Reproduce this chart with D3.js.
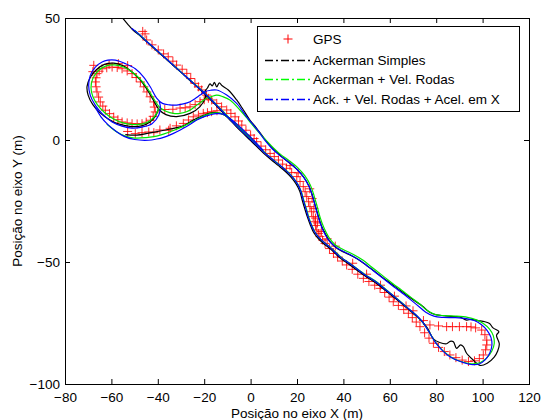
<!DOCTYPE html>
<html>
<head>
<meta charset="utf-8">
<script src="https://cdn.jsdelivr.net/npm/d3@7"></script>
<style>
  body { margin: 0; background: #fff; }
  text { font-family: "Liberation Sans", Arial, sans-serif; }
</style>
</head>
<body>
<div id="chart"></div>
<script>
// x/y ticks
var xTicks = [-80, -60, -40, -20, 0, 20, 40, 60, 80, 100, 120];
var yTicks = [-100, -50, 0, 50];

var legendLabels = ["GPS", "Ackerman Simples", "Ackerman + Vel. Rodas", "Ack. + Vel. Rodas + Acel. em X"];

// GPS fixes [x, y] in metres
var gpsPoints = [
  [-46.5,44.5],[-45.5,43.5],[-44.8,41],[-42.5,39],[-39.8,36.9],[-37.5,35.3],[-35.5,34.1],[-33.5,32.3],
  [-31.9,30.7],[-29.5,29],[-27.5,27.3],[-25.8,25.2],[-24,23.2],[-22.5,21.8],[-21.1,20.5],[-19,18.4],
  [-16.8,16.4],[-14.6,15],[-12.5,13.6],[-10.3,12.3],[-8.5,10.9],[-6.7,9.5],[-5.2,7.8],[-3.8,6.1],
  [-2,4],[0,2],[1.5,0.6],[2.6,-0.7],[4.5,-2.5],[6.5,-4],[8.4,-5.5],[10.2,-6.8],[12,-8.2],[13.8,-9.9],
  [15.5,-11.6],[17.7,-13.3],[19.9,-15],[21.3,-17],[22.7,-19.1],[23.5,-21.2],[24.2,-23.2],[25,-25.3],
  [25.6,-27.3],[26.3,-29.4],[27,-31.4],[27.7,-33.5],[28,-35],[28.5,-36.9],[29.2,-38.3],[29.9,-39.6],
  [31,-41],[32.1,-42.4],[34,-44.5],[35.7,-46.5],[37.5,-48],[39.5,-49.6],[41.4,-51.2],[43.8,-53],
  [46.2,-55],[48.6,-56.7],[51,-58],[53.5,-59.5],[55.8,-60.8],[57.8,-62.5],[59.7,-64.4],[61.5,-66.3],
  [63.7,-67.8],[66,-69.5],[68,-71],[69.7,-72.8],[71.4,-74.6],[73,-76.5],[75,-79],[76.9,-81.2],
  [78.8,-83.3],[81,-85],[83.5,-86.7],[85.9,-88.1],[88.5,-89.2],[91.2,-90.2],[93.9,-90.8],[96.5,-90.5],
  [98.6,-89.6],[100.3,-88.1],[101.3,-86],[101.8,-84],[101.8,-82],[101,-79.8],[99.6,-77.9],[97,-77],
  [95,-76.6],[93.1,-76.5],[90,-76.5],[87,-76.5],[84.5,-76.5],[81,-76.2],[77.3,-75.8],
  [25.5,-20],[26.5,-24],[27.3,-28],[28,-32],[28.8,-34],[30.5,-37.5],[33,-40.5],[36.5,-43.5],
  [20.5,-13.5],[17,-10.5],[44,-50.5],[50,-55],[56,-59.5],[62,-64],[67,-68],[70,-70],[74.5,-74],
  [-37,12.5],[-33.5,12.6],[-30.4,13.1],[-28.2,13.2],[-26.1,13.6],[-23.9,14.5],[-21.8,15.7],[-20,16.5],[-18.2,17.1],
  [-41.1,11.5],[-41.5,13.5],[-41.8,15.6],[-43.3,17.7],[-44.7,19.7],[-46,21.8],[-47.5,23.8],[-49.3,25.6],
  [-51.1,27.2],[-53.2,28.3],[-55.4,29.2],[-57.5,29.7],[-59.7,29.9],[-62,29.6],[-64.05,29.2],[-65.3,28.2],
  [-66.2,27.2],[-66.6,25.5],[-66.9,23.8],[-66.6,21.8],[-66.2,19.7],[-65.5,17.6],[-64.8,15.6],[-63.7,13.9],
  [-62.6,12.2],[-60.8,10.8],[-59,9.4],[-57.2,8.3],[-55.4,7.4],[-53.2,7],[-51.1,6.7],[-48.9,6.6],
  [-46.8,6.7],[-45,7.3],[-43.2,8.1],[-42,9.7],
  [-61,31],[-57,31.3],[-53,30.5],[-68,28],[-67.6,30.6],
  [-53,3.5],[-49.7,2.6],[-46.8,3],[-43.9,3.3],[-41.7,3],[-39.1,4.1],[-35.3,4],[-34.7,4.8],[-32,5.8],
  [-29,6.8],[-26.8,8.2],[-24.7,9.5],[-22.5,10.2],[-20.4,10.9],[-18.6,11.2],[-16.8,11.6],[-14.5,12]
];

// Ackerman Simples
var blackMain = [
  [-55.6,50.5],[-53,47.5],[-50.6,45],[-48,43],[-45,40.4],[-42,37.9],[-39,35.3],[-36,32.8],[-33,30.2],
  [-30,27.7],[-27,25.1],[-24,22.6],[-21,20],[-18,17.2],[-15,14.3],[-12,11.3],[-9,8.3],[-6,5.3],[-3,2.5],
  [0,-0.2],[3,-3],[6,-5.8],[9,-8.2],[12,-10.5],[15,-12.9],[17.5,-15.3],[19.6,-18],[21.2,-21],[22.3,-24.8],
  [23.4,-28.3],[24.5,-31.6],[25.7,-34.7],[27,-37.6],[29,-40.2],[31.5,-42.5],[34.2,-44.5],[38.5,-48.3],
  [42.8,-51.2],[48.6,-55.2],[54.3,-58.8],[58.7,-62.1],[63,-65.4],[67.3,-68.8],[71,-71.8],[74,-74.5],
  [76.5,-77.5],[78.8,-81.5],[81.5,-83],[84.5,-83.5],[86,-82.5],[87.4,-82.7],[88.8,-85.4],[90.5,-84],
  [91.7,-84.7],[93.1,-87.4],[96,-90.2],[98.9,-92.4],[102,-91.5],[105,-89],[106.5,-86.5],[107.2,-83.5],
  [106,-80],[107,-78.5],[104.5,-77],[103,-75.2],[101,-74.5],[98,-74],[95,-73.5],[93.1,-73.8],[90,-72.5],
  [87.4,-72.4],[83.5,-72],[80.2,-71.7],[77,-70.5],[74,-68],[70.5,-65.8],[66.5,-63],[62.5,-60.2],
  [58.5,-57.5],[54.5,-54.6],[50,-51.4],[45.5,-48.5],[41,-46.3],[37.5,-44.6],[34.5,-42],[32.3,-38.6],
  [30.4,-34.8],[29,-30.5],[27.6,-26],[26.2,-21.5],[24.3,-17.3],[21.3,-13.4],[17.8,-10.2],[13.8,-7.2],
  [9.6,-3.5],[6,0.5],[2.6,4.8],[-0.3,8.2],[-3.1,12.3],[-6,16.4],[-9.6,20.5],[-12.2,22.2],[-13.5,23.4],
  [-14.6,21.8],[-15.6,23.6],[-16.5,22.2],[-17.5,23],[-18.6,21.3],[-19.6,20],[-19.5,17.5],[-21.8,13.7],
  [-26.1,10.9],[-31.9,9.6],[-36.5,10.4],[-39.5,12.5],[-42,16.5],[-44.5,20.5],[-47.5,24.5],[-51,27.8],
  [-55,30.4],[-59,31.5],[-63,31],[-66.5,28.8],[-69,25.8],[-70.5,22],[-70,18.3],[-68,14.5],[-65,11.2],
  [-61,8.4],[-57,6.6],[-52,5.6],[-47,5.8],[-43.5,7.3],[-41,9.8],[-39.8,12.5]
];
var blackLower = [
  [-54,2.2],[-49,2],[-44,2.8],[-39.5,3.6],[-34.7,4.5],[-29,5.8],[-24.7,8.2],[-20.4,10],[-16.5,11.2],
  [-13,10.9],[-9.5,9.2],[-6,6.4],[-2.5,3.2],[1,-0.2],[4,-3]
];

// Ackerman + Vel. Rodas
var greenMain = [
  [-50,45],[-47,42.4],[-44,39.8],[-41,37.2],[-38,34.7],[-35,32.1],[-32,29.6],[-29,27],[-26,24.5],
  [-23,22],[-20,19.4],[-17,16.7],[-14,13.8],[-11,10.9],[-8,7.9],[-5,5],[-2,2.2],[1,-0.5],[4,-3.2],
  [7,-5.9],[10,-8.3],[13,-10.6],[16,-13],[18.5,-15.6],[20.5,-18.4],[22,-21.6],[23.1,-25.3],[24.2,-28.7],
  [25.2,-32],[26.4,-35],[27.8,-37.8],[29.6,-40.1],[32,-42.2],[34.8,-44.3],[39,-48],[43.3,-50.9],
  [49,-54.9],[54.7,-58.4],[59,-61.8],[63.3,-65.1],[67.5,-68.6],[71.3,-71.7],[74.3,-74.8],[77,-78.8],
  [79.8,-83],[83,-86.4],[86.5,-89],[90.6,-90.8],[95.2,-91.7],[99,-91.2],[101.8,-89.3],[104,-86.5],
  [105,-83.5],[104.6,-80.2],[103,-77.5],[100.3,-75.2],[97,-73.6],[93.5,-72.7],[88.5,-72.2],[83.5,-72],
  [79.5,-71.5],[76,-69.8],[73,-67.3],[69,-64.4],[65,-61.5],[61.5,-59],[57.7,-56.2],[53.4,-53],[48,-49],
  [43.5,-46.5],[39.5,-44.7],[36.5,-43],[33.8,-40],[31.7,-36.2],[30,-31.8],[28.7,-27.3],[27.4,-23],
  [25.9,-18.8],[23.5,-14.8],[20.4,-11.4],[16.8,-8.6],[12.8,-5.8],[9.2,-2.6],[5.8,0.8],[2.3,4.5],
  [-1,8.3],[-4.6,12.3],[-8.9,16.4],[-12,17.8],[-14.6,18.4],[-16.8,17.8],[-18.9,17.1],[-21,15.8],
  [-23.2,14.3],[-25.5,12.6],[-27.6,11.6],[-30.5,10.9],[-33.3,10.9],[-36.5,11.8],[-39.1,13.3],
  [-41.5,16.5],[-44,20.5],[-47,24.3],[-50.5,27.5],[-54.5,29.8],[-58.5,30.8],[-62.5,30.3],[-65.8,28.3],
  [-68,25.2],[-68.8,21.5],[-68,17.8],[-66,14.4],[-63,11.3],[-59.2,8.7],[-55,7],[-50.5,6.3],
  [-46.5,6.6],[-43.2,8],[-40.8,10.4],[-39.6,13]
];
var greenLower = [
  [-62,6.5],[-58,3.5],[-54,1.6],[-50,0.8],[-45,1],[-40.5,1.6],[-37.6,2.4],[-33,4],[-29,5.6],
  [-24.5,7.8],[-20.4,9.8],[-16.5,11],[-12.5,10.8],[-8.5,8.2],[-5,5.2],[-1.5,2],[2,-1.2],[5,-4]
];

// Ack. + Vel. Rodas + Acel. em X
var blueMain = [
  [-51.3,45.8],[-48,43.3],[-45,40.6],[-42,38.1],[-39,35.5],[-36,33],[-33,30.4],[-30,27.8],[-27,25.3],
  [-24,22.7],[-21,20.2],[-18,17.5],[-15,14.6],[-12,11.6],[-9,8.6],[-6,5.7],[-3,2.9],[0,0.2],[3,-2.5],
  [6,-5.2],[9,-7.6],[12,-9.9],[15,-12.3],[17.8,-14.9],[20,-17.7],[21.6,-20.8],[22.7,-24.6],[23.8,-28],
  [24.8,-31.4],[26,-34.4],[27.3,-37.2],[29.2,-39.7],[31.7,-42],[34.4,-44.1],[38.6,-47.9],[43,-50.8],
  [48.7,-54.9],[54.4,-58.4],[58.8,-61.8],[63.1,-65.1],[67.4,-68.6],[71.2,-71.6],[74.2,-74.6],
  [76.8,-78.5],[79.5,-82.7],[82.6,-86.2],[86.1,-88.9],[90.4,-90.8],[95,-92],[98.5,-91.8],[101.2,-90],
  [103.1,-87.3],[104,-84.2],[103.6,-80.9],[102,-78.1],[99.4,-75.6],[96.4,-74],[93,-73.2],[88,-72.8],
  [83,-72.7],[79,-72.2],[75.5,-70.6],[72.4,-68.1],[68.5,-65.1],[64.5,-62.1],[61,-59.6],[57.2,-56.8],
  [52.9,-53.6],[47.5,-49.6],[43,-47],[39,-45.2],[36,-43.4],[33.2,-40.5],[31.1,-36.8],[29.4,-32.4],
  [28.1,-28],[26.9,-23.7],[25.4,-19.5],[23,-15.4],[20,-12],[16.5,-9.1],[12.5,-6.3],[9.3,-3.6],
  [6.2,-0.2],[3,4],[-1.7,9.5],[-6,15],[-10.3,18.4],[-14.6,20.5],[-17.2,20.4],[-19.7,19.8],[-21.8,18.4],
  [-24,16.9],[-26.1,15.7],[-29,14.8],[-31.9,14.3],[-35,14.4],[-38,15],[-40.5,17.2],[-43.2,21.7],
  [-46.1,25.8],[-49.7,29.2],[-54,31.3],[-58.3,32.7],[-61.5,32.7],[-64,32],[-66.9,29.9],[-69.1,26.5],
  [-69.8,22.4],[-69.1,18.3],[-66.9,14.2],[-64,10.8],[-59.7,7.4],[-55.4,5.7],[-51.1,4.9],[-46.8,5.3],
  [-42.5,6.7],[-39.6,10.1],[-38.9,13.5],[-39.4,16]
];
var blueLower = [
  [-67,13.5],[-64.5,9.5],[-61.5,6.3],[-58,3.6],[-54.5,1.5],[-50,0.2],[-44,-0.1],[-40.5,0.4],
  [-37.5,1.1],[-34.7,2.1],[-31.8,3.4],[-29,4.8],[-26,6.5],[-23.2,8.2],[-20.3,9.5],[-17.5,10.3],
  [-14.6,10.8],[-11.8,10.6],[-8.8,8.7],[-6,6.6],[-3,3.9],[0,1.2],[3,-1.8],[5.5,-4.3]
];

var series = [
  { color: "#000000", parts: [blackMain, blackLower] },
  { color: "#00e600", parts: [greenMain, greenLower] },
  { color: "#0000ff", parts: [blueMain, blueLower] }
];

// standard d3 plot setup
let margin = { top: 18, right: 13, bottom: 36, left: 65 };
let width = 542 - margin.left - margin.right;
let height = 420 - margin.top - margin.bottom;
let fontSize = 13.5;

let x = d3.scaleLinear().domain([-80, 120]).range([0, width]);
let y = d3.scaleLinear().domain([-100, 50]).range([height, 0]);

let svgElt = d3
  .select("#chart")
  .append("svg")
  .attr("width", 542)
  .attr("height", 420);

let plot = svgElt
  .append("g")
  .attr("transform", "translate(" + margin.left + "," + margin.top + ")");

plot.append("clipPath").attr("id", "clip")
  .append("rect").attr("width", width).attr("height", height);

let marks = plot.append("g").attr("clip-path", "url(#clip)");

// GPS '+' markers
let plus = "M-4.5,0H4.5M0,-4.5V4.5";
marks.append("g")
  .selectAll("path")
  .data(gpsPoints)
  .enter()
  .append("path")
  .attr("d", plus)
  .attr("transform", (d) => `translate(${x(d[0])},${y(d[1])})`)
  .attr("stroke", "#ff0000")
  .attr("stroke-opacity", 0.85)
  .attr("fill", "none");

let line = d3.line()
  .x((d) => x(d[0]))
  .y((d) => y(d[1]))
  .curve(d3.curveCatmullRom.alpha(0.5));

series.forEach(function (s) {
  marks.append("g")
    .selectAll("path")
    .data(s.parts)
    .enter()
    .append("path")
    .attr("d", line)
    .attr("fill", "none")
    .attr("stroke", s.color)
    .attr("stroke-width", 1.2);
});

// axes, ticks pointing inward like matlab
function styleAxis(g) {
  g.select(".domain").remove();
  g.selectAll("line").attr("stroke", "#000");
  g.selectAll("text")
    .attr("font-size", fontSize)
    .attr("font-family", "Liberation Sans, Arial, sans-serif")
    .attr("fill", "#000");
}

plot.append("g")
  .attr("transform", "translate(0," + height + ")")
  .call(d3.axisBottom(x).tickValues(xTicks).tickSizeInner(-5).tickSizeOuter(0).tickPadding(8))
  .call(styleAxis);
plot.append("g")
  .call(d3.axisTop(x).tickValues(xTicks).tickSizeInner(-5).tickSizeOuter(0).tickFormat(""))
  .call(styleAxis);
plot.append("g")
  .call(d3.axisLeft(y).tickValues(yTicks).tickSizeInner(-5).tickSizeOuter(0).tickPadding(5))
  .call(styleAxis);
plot.append("g")
  .attr("transform", "translate(" + width + ",0)")
  .call(d3.axisRight(y).tickValues(yTicks).tickSizeInner(-5).tickSizeOuter(0).tickFormat(""))
  .call(styleAxis);

plot.append("rect")
  .attr("x", 0.5).attr("y", 0.5)
  .attr("width", width).attr("height", height)
  .attr("fill", "none")
  .attr("stroke", "#000");

// axis labels
svgElt.append("text")
  .attr("x", margin.left + width / 2)
  .attr("y", 418)
  .attr("text-anchor", "middle")
  .attr("font-size", fontSize)
  .text("Posição no eixo X (m)");
svgElt.append("text")
  .attr("transform", `translate(22,${margin.top + height / 2})rotate(-90)`)
  .attr("text-anchor", "middle")
  .attr("font-size", fontSize)
  .text("Posição no eixo Y (m)");

// legend
let legend = svgElt.append("g").attr("transform", "translate(257,26)");
legend.append("rect")
  .attr("x", 0.5).attr("y", 0.5)
  .attr("width", 262).attr("height", 85)
  .attr("fill", "#fff")
  .attr("stroke", "#000");

let legendColors = ["#ff0000", "#000000", "#00ff00", "#0000ff"];
let legendRowY = [13, 34, 53, 73];
legendLabels.forEach(function (label, i) {
  let row = legend.append("g").attr("transform", `translate(0,${legendRowY[i]})`);
  if (i === 0) {
    row.append("path")
      .attr("d", plus)
      .attr("transform", "translate(31,0)")
      .attr("stroke", legendColors[i])
      .attr("fill", "none");
  } else {
    row.append("path")
      .attr("d", "M8,0.5H53")
      .attr("fill", "none")
      .style("stroke", legendColors[i])
      .style("stroke-width", "1.5px")
      .style("stroke-dasharray", "8,3,2,3");
  }
  row.append("text")
    .attr("x", 56)
    .attr("y", 5)
    .attr("font-size", fontSize)
    .text(label);
});
</script>
</body>
</html>
